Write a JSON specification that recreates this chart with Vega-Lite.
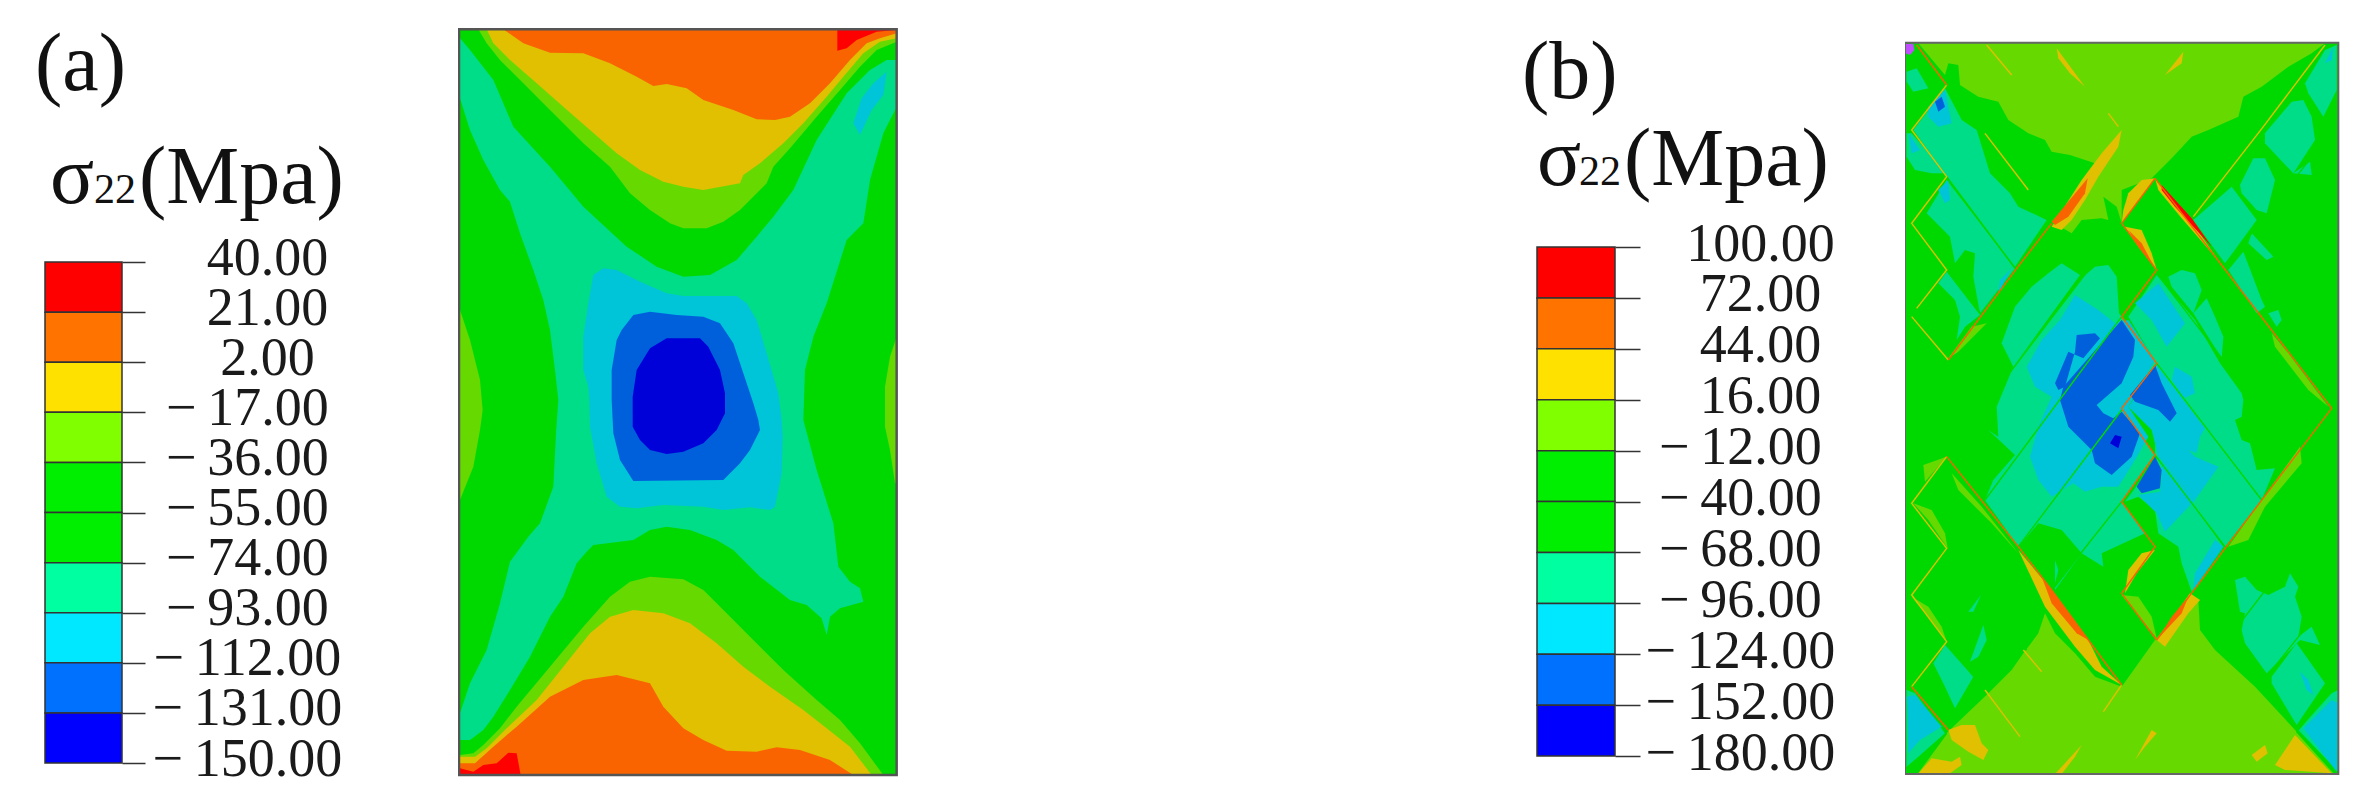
{"$schema":"https://vega.github.io/schema/vega-lite/v6.json","padding":0,"spacing":0,"background":"white","config":{"view":{"stroke":null},"font":"Liberation Serif"},"resolve":{"scale":{"color":"independent","stroke":"independent"}},"hconcat":[
{"width":458,"height":811,"layer":[
{"data":{"values":[{"hi":40,"lo":21,"band":1},{"hi":21,"lo":2,"band":2},{"hi":2,"lo":-17,"band":3},{"hi":-17,"lo":-36,"band":4},{"hi":-36,"lo":-55,"band":5},{"hi":-55,"lo":-74,"band":6},{"hi":-74,"lo":-93,"band":7},{"hi":-93,"lo":-112,"band":8},{"hi":-112,"lo":-131,"band":9},{"hi":-131,"lo":-150,"band":10}]},"mark":{"type":"rect","stroke":"#333","strokeWidth":1.5},"encoding":{"x":{"datum":45,"type":"quantitative","scale":{"domain":[0,458],"nice":false},"axis":null},"x2":{"datum":122},"y":{"field":"hi","type":"quantitative","scale":{"domain":[-168.2,139.4],"nice":false,"zero":false},"axis":{"orient":"right","offset":-336,"title":null,"grid":false,"domain":false,"values":[40,21,2,-17,-36,-55,-74,-93,-112,-131,-150],"labelExpr":"(datum.value<0?'−\u2009':'')+format(abs(datum.value),'.2f')+(datum.value<0?'\u00a0\u00a0\u00a0\u200b':'')","labelFont":"Liberation Serif","labelFontSize":54,"labelColor":"#1a1a1a","labelAlign":"center","labelBaseline":"middle","labelPadding":122,"labelLimit":500,"labelOffset":-4,"labelOverlap":false,"labelBound":false,"labelFlush":false,"tickSize":23,"tickColor":"#333","tickWidth":1.5}},"y2":{"field":"lo"},"color":{"field":"band","type":"ordinal","legend":null,"scale":{"domain":[1,2,3,4,5,6,7,8,9,10],"range":["#ff0000","#ff7300","#ffe100","#7fff00","#00ef00","#00ef00","#00ffa0","#00e8ff","#0070ff","#0000ff"]}}}},
{"data":{"values":[{"t":"(a)","px":35,"v":105.2},{"t":"σ","px":50,"v":62.4},{"t":"(Mpa)","px":139,"v":62.4}]},"mark":{"type":"text","align":"left","baseline":"alphabetic","font":"Liberation Serif","fontSize":82,"color":"#111"},"encoding":{"x":{"field":"px","type":"quantitative"},"y":{"field":"v","type":"quantitative"},"text":{"field":"t"}}},
{"data":{"values":[{"t":"22","px":94,"v":62.4}]},"mark":{"type":"text","align":"left","baseline":"alphabetic","font":"Liberation Serif","fontSize":42,"color":"#111"},"encoding":{"x":{"field":"px","type":"quantitative"},"y":{"field":"v","type":"quantitative"},"text":{"field":"t"}}}
]},
{"width":1042,"height":811,"projection":{"type":"identity","scale":0.33333,"translate":[-8,20]},"layer":[
{"data":{"values":[
{"type":"Feature","properties":{"band":"green"},"geometry":{"type":"Polygon","coordinates":[[[27,28],[1340,28],[1340,2265],[27,2265],[27,28]]]}},
{"type":"Feature","properties":{"band":"teal"},"geometry":{"type":"Polygon","coordinates":[[[30,55],[30,235],[60,330],[100,420],[150,510],[180,545],[210,640],[250,750],[280,840],[300,930],[315,1050],[325,1140],[318,1240],[310,1400],[270,1510],[235,1550],[180,1625],[150,1750],[110,1890],[60,1990],[30,2080],[30,2160],[60,2160],[100,2130],[130,2090],[180,2010],[240,1910],[300,1790],[340,1730],[380,1630],[410,1595],[430,1575],[550,1560],[600,1530],[650,1520],[720,1530],[800,1560],[850,1590],[930,1670],[1020,1740],[1070,1755],[1115,1795],[1130,1845],[1140,1790],[1170,1765],[1240,1745],[1230,1705],[1200,1685],[1165,1640],[1150,1510],[1100,1350],[1060,1200],[1065,1050],[1090,950],[1130,850],[1190,660],[1240,610],[1260,480],[1300,340],[1340,260],[1340,120],[1310,120],[1260,150],[1190,220],[1100,360],[1030,510],[970,590],[920,650],[860,720],[780,765],[700,770],[620,740],[530,680],[400,560],[300,440],[190,320],[130,180],[60,90],[30,55]]]}},
{"type":"Feature","properties":{"band":"yg"},"geometry":{"type":"Polygon","coordinates":[[[30,870],[60,960],[90,1080],[98,1170],[90,1230],[70,1340],[30,1440],[30,870]]]}},
{"type":"Feature","properties":{"band":"yg"},"geometry":{"type":"Polygon","coordinates":[[[1340,950],[1320,1010],[1305,1100],[1305,1220],[1320,1290],[1335,1390],[1340,1390],[1340,950]]]}},
{"type":"Feature","properties":{"band":"cyan"},"geometry":{"type":"Polygon","coordinates":[[[1310,155],[1300,225],[1265,270],[1230,345],[1210,310],[1235,235],[1270,190],[1310,155]]]}},
{"type":"Feature","properties":{"band":"cyan"},"geometry":{"type":"Polygon","coordinates":[[[430,765],[460,745],[500,750],[570,785],[650,820],[700,828],[860,828],[890,850],[920,900],[950,1000],[985,1120],[995,1200],[998,1250],[995,1360],[975,1460],[960,1470],[900,1462],[820,1470],[760,1460],[640,1455],[560,1465],[510,1460],[470,1430],[440,1330],[420,1220],[418,1140],[415,1100],[400,1050],[400,950],[415,850],[430,765]]]}},
{"type":"Feature","properties":{"band":"blue"},"geometry":{"type":"Polygon","coordinates":[[[515,930],[550,885],[600,875],[680,885],[760,890],[810,910],[850,970],[880,1060],[910,1150],[925,1200],[930,1230],[900,1290],[870,1330],[820,1380],[550,1383],[510,1320],[490,1240],[485,1140],[485,1050],[500,960],[515,930]]]}},
{"type":"Feature","properties":{"band":"navy"},"geometry":{"type":"Polygon","coordinates":[[[600,985],[650,955],[750,955],[775,980],[810,1050],[825,1120],[825,1180],[800,1230],[760,1270],[700,1295],[650,1302],[600,1290],[570,1260],[548,1220],[548,1130],[560,1050],[600,985]]]}},
{"type":"Feature","properties":{"band":"yg"},"geometry":{"type":"Polygon","coordinates":[[[85,28],[110,70],[150,120],[220,190],[300,270],[400,370],[480,440],[540,520],[600,570],[660,610],[700,625],[770,625],[820,605],[870,570],[950,490],[970,440],[1020,385],[1100,290],[1170,210],[1230,140],[1280,90],[1340,65],[1340,28],[85,28]]]}},
{"type":"Feature","properties":{"band":"yellow"},"geometry":{"type":"Polygon","coordinates":[[[110,28],[130,70],[180,120],[260,190],[340,260],[420,330],[500,400],[570,450],[640,485],[700,500],[760,510],[870,490],[880,465],[930,430],[1000,370],[1060,310],[1130,230],[1180,170],[1240,100],[1290,65],[1340,55],[1340,28],[110,28]]]}},
{"type":"Feature","properties":{"band":"orange"},"geometry":{"type":"Polygon","coordinates":[[[160,28],[220,70],[300,98],[400,100],[480,130],[560,170],[610,198],[650,192],[710,205],[760,240],[850,270],[920,298],[975,300],[1020,290],[1080,250],[1140,190],[1200,120],[1250,70],[1290,55],[1340,40],[1340,28],[160,28]]]}},
{"type":"Feature","properties":{"band":"red"},"geometry":{"type":"Polygon","coordinates":[[[1162,28],[1162,92],[1190,85],[1220,60],[1280,35],[1340,30],[1340,28],[1162,28]]]}},
{"type":"Feature","properties":{"band":"yg"},"geometry":{"type":"Polygon","coordinates":[[[30,2205],[70,2200],[100,2175],[150,2125],[200,2060],[300,1940],[400,1820],[480,1730],[540,1685],[600,1670],[700,1678],[760,1710],[830,1780],[900,1850],[1000,1950],[1100,2040],[1170,2100],[1230,2170],[1300,2265],[30,2265],[30,2205]]]}},
{"type":"Feature","properties":{"band":"yellow"},"geometry":{"type":"Polygon","coordinates":[[[30,2210],[75,2210],[110,2185],[170,2125],[260,2040],[340,1940],[420,1840],[480,1790],[550,1770],[640,1780],[720,1810],[800,1870],[880,1940],[960,2000],[1060,2070],[1130,2125],[1200,2180],[1265,2265],[30,2265],[30,2210]]]}},
{"type":"Feature","properties":{"band":"orange"},"geometry":{"type":"Polygon","coordinates":[[[30,2230],[75,2230],[130,2180],[200,2120],[300,2030],[400,1980],[500,1965],[600,1990],[640,2060],[700,2125],[760,2160],[830,2192],[920,2195],[980,2182],[1050,2190],[1140,2220],[1210,2265],[30,2265],[30,2230]]]}},
{"type":"Feature","properties":{"band":"red"},"geometry":{"type":"Polygon","coordinates":[[[30,2245],[70,2255],[100,2235],[140,2230],[175,2198],[200,2200],[212,2265],[30,2265],[30,2245]]]}}
]},"mark":{"type":"geoshape","strokeWidth":0},"encoding":{"color":{"field":"properties.band","type":"nominal","legend":null,"scale":{"domain":["red","orange","yellow","yg","green","teal","cyan","blue","navy","violet"],"range":["#ff0000","#f96400","#e0c000","#66d900","#00d900","#00dd88","#00c4d8","#0060dc","#0000d9","#c050ff"]}}}},
{"data":{"values":[{"type":"Feature","properties":{"band":"frame"},"geometry":{"type":"Polygon","coordinates":[[[27,28],[1340,28],[1340,2265],[27,2265],[27,28]]]}}]},"mark":{"type":"geoshape","filled":false,"stroke":"#555","strokeWidth":2.5},"encoding":{}}
]},
{"width":405,"height":811,"layer":[
{"data":{"values":[{"hi":100,"lo":72,"band":1},{"hi":72,"lo":44,"band":2},{"hi":44,"lo":16,"band":3},{"hi":16,"lo":-12,"band":4},{"hi":-12,"lo":-40,"band":5},{"hi":-40,"lo":-68,"band":6},{"hi":-68,"lo":-96,"band":7},{"hi":-96,"lo":-124,"band":8},{"hi":-124,"lo":-152,"band":9},{"hi":-152,"lo":-180,"band":10}]},"mark":{"type":"rect","stroke":"#333","strokeWidth":1.5},"encoding":{"x":{"datum":37,"type":"quantitative","scale":{"domain":[0,405],"nice":false},"axis":null},"x2":{"datum":115},"y":{"field":"hi","type":"quantitative","scale":{"domain":[-210.2,235.9],"nice":false,"zero":false},"axis":{"orient":"right","offset":-290,"title":null,"grid":false,"domain":false,"values":[100,72,44,16,-12,-40,-68,-96,-124,-152,-180],"labelExpr":"(datum.value<0?'−\u2009':'')+format(abs(datum.value),'.2f')+(datum.value<0?'\u00a0\u00a0\u00a0\u200b':'')","labelFont":"Liberation Serif","labelFontSize":54,"labelColor":"#1a1a1a","labelAlign":"center","labelBaseline":"middle","labelPadding":120,"labelLimit":500,"labelOffset":-3,"labelOverlap":false,"labelBound":false,"labelFlush":false,"tickSize":25,"tickColor":"#333","tickWidth":1.5}},"y2":{"field":"lo"},"color":{"field":"band","type":"ordinal","legend":null,"scale":{"domain":[1,2,3,4,5,6,7,8,9,10],"range":["#ff0000","#ff7300","#ffe100","#7fff00","#00ef00","#00ef00","#00ffa0","#00e8ff","#0070ff","#0000ff"]}}}},
{"data":{"values":[{"t":"(b)","px":22,"v":182},{"t":"σ","px":37,"v":134.1},{"t":"(Mpa)","px":124,"v":134.1}]},"mark":{"type":"text","align":"left","baseline":"alphabetic","font":"Liberation Serif","fontSize":82,"color":"#111"},"encoding":{"x":{"field":"px","type":"quantitative"},"y":{"field":"v","type":"quantitative"},"text":{"field":"t"}}},
{"data":{"values":[{"t":"22","px":79,"v":134.1}]},"mark":{"type":"text","align":"left","baseline":"alphabetic","font":"Liberation Serif","fontSize":42,"color":"#111"},"encoding":{"x":{"field":"px","type":"quantitative"},"y":{"field":"v","type":"quantitative"},"text":{"field":"t"}}}
]},
{"width":466,"height":811,"projection":{"type":"identity","scale":0.33334,"translate":[-10,30],"precision":0.6},"layer":[
{"data":{"values":[
{"type":"Feature","properties":{"band":"green"},"geometry":{"type":"Polygon","coordinates":[[[30,38],[1330,38],[1330,2232],[30,2232],[30,38]]]}},
{"type":"Feature","properties":{"band":"yg"},"geometry":{"type":"Polygon","coordinates":[[[70,40],[150,135],[160,100],[190,105],[195,165],[250,200],[310,215],[340,270],[400,310],[450,330],[470,365],[525,375],[600,400],[570,440],[520,520],[470,575],[530,610],[560,570],[620,565],[640,570],[625,500],[665,530],[680,580],[680,480],[770,445],[830,385],[890,320],[940,300],[1030,260],[1045,200],[1100,170],[1180,110],[1250,70],[1290,40],[70,40]]]}},
{"type":"Feature","properties":{"band":"yg"},"geometry":{"type":"Polygon","coordinates":[[[65,2232],[155,2110],[180,2085],[280,1990],[350,1920],[385,1870],[430,1810],[450,1750],[480,1810],[540,1870],[600,1940],[680,1970],[780,1830],[880,1710],[910,1710],[915,1800],[960,1860],[1080,1970],[1205,2105],[1320,2232],[65,2232]]]}},
{"type":"Feature","properties":{"band":"teal"},"geometry":{"type":"Polygon","coordinates":[[[55,300],[150,175],[200,270],[245,300],[285,430],[345,490],[370,530],[455,570],[360,710],[155,440],[55,300]]]}},
{"type":"Feature","properties":{"band":"teal"},"geometry":{"type":"Polygon","coordinates":[[[35,310],[50,310],[155,430],[110,430],[60,420],[35,380],[35,310]]]}},
{"type":"Feature","properties":{"band":"teal"},"geometry":{"type":"Polygon","coordinates":[[[155,450],[360,715],[255,850],[235,740],[240,670],[210,660],[180,700],[165,620],[95,550],[155,450]]]}},
{"type":"Feature","properties":{"band":"teal"},"geometry":{"type":"Polygon","coordinates":[[[35,125],[65,115],[100,175],[55,185],[35,155],[35,125]]]}},
{"type":"Feature","properties":{"band":"teal"},"geometry":{"type":"Polygon","coordinates":[[[130,760],[155,725],[255,855],[210,890],[185,930],[195,860],[180,810],[130,760]]]}},
{"type":"Feature","properties":{"band":"teal"},"geometry":{"type":"Polygon","coordinates":[[[555,735],[500,700],[460,730],[410,770],[360,830],[320,940],[355,1010],[555,735]]]}},
{"type":"Feature","properties":{"band":"teal"},"geometry":{"type":"Polygon","coordinates":[[[600,710],[640,705],[665,740],[672,850],[680,860],[785,1000],[680,1135],[780,1275],[680,1415],[750,1510],[620,1570],[625,1610],[560,1570],[480,1680],[480,1570],[430,1480],[370,1550],[270,1410],[295,1350],[360,1275],[280,1200],[310,1220],[305,1130],[355,1010],[560,745],[600,710]]]}},
{"type":"Feature","properties":{"band":"teal"},"geometry":{"type":"Polygon","coordinates":[[[820,740],[860,720],[900,730],[920,780],[895,850],[830,770],[820,740]]]}},
{"type":"Feature","properties":{"band":"teal"},"geometry":{"type":"Polygon","coordinates":[[[895,850],[935,805],[960,860],[985,920],[980,985],[895,850]]]}},
{"type":"Feature","properties":{"band":"teal"},"geometry":{"type":"Polygon","coordinates":[[[785,735],[900,870],[975,1000],[1040,1090],[1045,1110],[1040,1160],[1020,1170],[1040,1230],[1065,1240],[1085,1320],[1140,1315],[1100,1410],[990,1550],[780,1275],[785,1000],[700,860],[785,735]]]}},
{"type":"Feature","properties":{"band":"teal"},"geometry":{"type":"Polygon","coordinates":[[[790,1280],[985,1550],[890,1685],[860,1600],[850,1550],[820,1530],[790,1510],[780,1440],[730,1400],[690,1415],[790,1280]]]}},
{"type":"Feature","properties":{"band":"green"},"geometry":{"type":"Polygon","coordinates":[[[430,1480],[470,1560],[490,1620],[475,1680],[560,1570],[500,1500],[430,1480]]]}},
{"type":"Feature","properties":{"band":"teal"},"geometry":{"type":"Polygon","coordinates":[[[1230,160],[1290,60],[1325,45],[1325,180],[1285,260],[1240,190],[1230,160]]]}},
{"type":"Feature","properties":{"band":"teal"},"geometry":{"type":"Polygon","coordinates":[[[1110,310],[1190,215],[1225,210],[1250,260],[1260,330],[1195,430],[1110,340],[1110,310]]]}},
{"type":"Feature","properties":{"band":"teal"},"geometry":{"type":"Polygon","coordinates":[[[1035,465],[1075,385],[1110,385],[1140,450],[1115,550],[1085,540],[1040,490],[1035,465]]]}},
{"type":"Feature","properties":{"band":"teal"},"geometry":{"type":"Polygon","coordinates":[[[895,570],[1010,470],[1085,570],[990,700],[895,570]]]}},
{"type":"Feature","properties":{"band":"teal"},"geometry":{"type":"Polygon","coordinates":[[[1000,720],[1045,665],[1100,810],[1110,830],[1085,850],[1000,720]]]}},
{"type":"Feature","properties":{"band":"teal"},"geometry":{"type":"Polygon","coordinates":[[[1070,610],[1135,680],[1115,690],[1060,640],[1070,610]]]}},
{"type":"Feature","properties":{"band":"teal"},"geometry":{"type":"Polygon","coordinates":[[[1120,850],[1150,840],[1160,870],[1145,890],[1120,850]]]}},
{"type":"Feature","properties":{"band":"teal"},"geometry":{"type":"Polygon","coordinates":[[[1195,430],[1245,395],[1250,435],[1195,430]]]}},
{"type":"Feature","properties":{"band":"teal"},"geometry":{"type":"Polygon","coordinates":[[[115,1900],[150,1845],[235,1940],[180,2035],[150,1970],[115,1900]]]}},
{"type":"Feature","properties":{"band":"teal"},"geometry":{"type":"Polygon","coordinates":[[[220,1745],[258,1695],[235,1745],[220,1745]]]}},
{"type":"Feature","properties":{"band":"teal"},"geometry":{"type":"Polygon","coordinates":[[[225,1895],[265,1785],[275,1830],[250,1880],[225,1895]]]}},
{"type":"Feature","properties":{"band":"teal"},"geometry":{"type":"Polygon","coordinates":[[[1020,1650],[1050,1640],[1085,1680],[1120,1695],[1170,1670],[1185,1630],[1210,1670],[1200,1700],[1220,1760],[1210,1820],[1250,1790],[1275,1845],[1215,1830],[1115,1930],[1050,1840],[1040,1800],[1050,1750],[1035,1745],[1020,1650]]]}},
{"type":"Feature","properties":{"band":"teal"},"geometry":{"type":"Polygon","coordinates":[[[1130,1940],[1205,1840],[1290,1960],[1205,2085],[1130,1960],[1130,1940]]]}},
{"type":"Feature","properties":{"band":"teal"},"geometry":{"type":"Polygon","coordinates":[[[35,1980],[60,1990],[150,2110],[70,2180],[35,2210],[35,1980]]]}},
{"type":"Feature","properties":{"band":"teal"},"geometry":{"type":"Polygon","coordinates":[[[1330,1980],[1310,1990],[1210,2100],[1330,2225],[1330,1980]]]}},
{"type":"Feature","properties":{"band":"cyan"},"geometry":{"type":"Polygon","coordinates":[[[540,795],[610,840],[660,880],[700,870],[780,990],[700,1130],[760,1220],[720,1290],[670,1370],[620,1370],[570,1385],[535,1360],[470,1400],[430,1350],[405,1280],[430,1190],[470,1100],[420,1070],[395,1010],[440,930],[495,870],[540,795]]]}},
{"type":"Feature","properties":{"band":"cyan"},"geometry":{"type":"Polygon","coordinates":[[[790,760],[870,880],[815,950],[770,870],[720,820],[790,760]]]}},
{"type":"Feature","properties":{"band":"cyan"},"geometry":{"type":"Polygon","coordinates":[[[840,1010],[890,1040],[900,1090],[865,1105],[830,1050],[840,1010]]]}},
{"type":"Feature","properties":{"band":"cyan"},"geometry":{"type":"Polygon","coordinates":[[[785,1005],[930,1195],[915,1220],[905,1270],[880,1260],[900,1280],[970,1310],[900,1410],[790,1280],[770,1200],[700,1130],[785,1005]]]}},
{"type":"Feature","properties":{"band":"cyan"},"geometry":{"type":"Polygon","coordinates":[[[800,1295],[900,1410],[810,1505],[785,1450],[730,1395],[795,1385],[800,1340],[800,1295]]]}},
{"type":"Feature","properties":{"band":"cyan"},"geometry":{"type":"Polygon","coordinates":[[[960,1530],[985,1550],[895,1680],[900,1630],[960,1530]]]}},
{"type":"Feature","properties":{"band":"cyan"},"geometry":{"type":"Polygon","coordinates":[[[40,310],[75,360],[50,370],[40,310]]]}},
{"type":"Feature","properties":{"band":"cyan"},"geometry":{"type":"Polygon","coordinates":[[[130,480],[160,450],[165,510],[150,520],[130,480]]]}},
{"type":"Feature","properties":{"band":"cyan"},"geometry":{"type":"Polygon","coordinates":[[[100,230],[150,180],[170,280],[130,290],[100,260],[100,230]]]}},
{"type":"Feature","properties":{"band":"cyan"},"geometry":{"type":"Polygon","coordinates":[[[315,750],[350,715],[310,790],[315,750]]]}},
{"type":"Feature","properties":{"band":"cyan"},"geometry":{"type":"Polygon","coordinates":[[[1290,100],[1315,50],[1310,90],[1290,100]]]}},
{"type":"Feature","properties":{"band":"cyan"},"geometry":{"type":"Polygon","coordinates":[[[1215,1925],[1240,1950],[1255,1995],[1235,1980],[1215,1925]]]}},
{"type":"Feature","properties":{"band":"cyan"},"geometry":{"type":"Polygon","coordinates":[[[35,2000],[60,1995],[140,2090],[75,2130],[40,2170],[35,2000]]]}},
{"type":"Feature","properties":{"band":"cyan"},"geometry":{"type":"Polygon","coordinates":[[[1330,2020],[1310,2010],[1225,2095],[1325,2225],[1330,2020]]]}},
{"type":"Feature","properties":{"band":"blue"},"geometry":{"type":"Polygon","coordinates":[[[680,870],[720,930],[715,980],[680,1060],[605,1125],[625,1150],[655,1165],[680,1145],[735,1210],[710,1280],[650,1335],[600,1300],[590,1260],[520,1190],[495,1110],[505,1070],[680,870]]]}},
{"type":"Feature","properties":{"band":"blue"},"geometry":{"type":"Polygon","coordinates":[[[545,915],[600,910],[615,925],[565,985],[520,965],[480,1060],[490,1080],[510,1070],[540,965],[545,915]]]}},
{"type":"Feature","properties":{"band":"blue"},"geometry":{"type":"Polygon","coordinates":[[[780,1005],[800,1060],[845,1150],[825,1175],[790,1140],[720,1115],[705,1095],[780,1005]]]}},
{"type":"Feature","properties":{"band":"blue"},"geometry":{"type":"Polygon","coordinates":[[[780,1280],[800,1320],[795,1375],[740,1390],[725,1370],[780,1280]]]}},
{"type":"Feature","properties":{"band":"blue"},"geometry":{"type":"Polygon","coordinates":[[[120,215],[140,200],[150,230],[130,245],[120,215]]]}},
{"type":"Feature","properties":{"band":"navy"},"geometry":{"type":"Polygon","coordinates":[[[660,1215],[680,1220],[670,1255],[645,1240],[660,1215]]]}},
{"type":"Feature","properties":{"band":"yellow"},"geometry":{"type":"Polygon","coordinates":[[[680,300],[670,350],[610,440],[570,510],[530,570],[500,600],[470,590],[560,450],[620,370],[680,300]]]}},
{"type":"Feature","properties":{"band":"orange"},"geometry":{"type":"Polygon","coordinates":[[[578,445],[570,490],[520,560],[480,585],[470,575],[578,445]]]}},
{"type":"Feature","properties":{"band":"yellow"},"geometry":{"type":"Polygon","coordinates":[[[780,445],[740,450],[700,490],[685,540],[680,580],[780,445]]]}},
{"type":"Feature","properties":{"band":"yellow"},"geometry":{"type":"Polygon","coordinates":[[[780,445],[790,480],[860,565],[960,680],[990,720],[900,590],[780,445]]]}},
{"type":"Feature","properties":{"band":"red"},"geometry":{"type":"Polygon","coordinates":[[[800,465],[890,565],[950,650],[840,530],[800,480],[800,465]]]}},
{"type":"Feature","properties":{"band":"yellow"},"geometry":{"type":"Polygon","coordinates":[[[690,590],[740,600],[770,670],[785,720],[730,650],[690,590]]]}},
{"type":"Feature","properties":{"band":"orange"},"geometry":{"type":"Polygon","coordinates":[[[700,600],[740,640],[780,715],[730,650],[700,600]]]}},
{"type":"Feature","properties":{"band":"yellow"},"geometry":{"type":"Polygon","coordinates":[[[370,1560],[450,1730],[540,1850],[600,1920],[680,1965],[620,1910],[580,1830],[470,1680],[370,1560]]]}},
{"type":"Feature","properties":{"band":"orange"},"geometry":{"type":"Polygon","coordinates":[[[440,1640],[470,1680],[580,1830],[545,1810],[470,1720],[440,1640]]]}},
{"type":"Feature","properties":{"band":"yellow"},"geometry":{"type":"Polygon","coordinates":[[[885,1690],[915,1710],[880,1750],[810,1850],[785,1830],[885,1690]]]}},
{"type":"Feature","properties":{"band":"orange"},"geometry":{"type":"Polygon","coordinates":[[[880,1700],[860,1750],[790,1825],[830,1760],[880,1700]]]}},
{"type":"Feature","properties":{"band":"yg"},"geometry":{"type":"Polygon","coordinates":[[[1000,1550],[1060,1530],[1110,1430],[1220,1300],[1215,1250],[1100,1410],[1000,1550]]]}},
{"type":"Feature","properties":{"band":"yg"},"geometry":{"type":"Polygon","coordinates":[[[680,1695],[730,1700],[770,1760],[785,1825],[680,1695]]]}},
{"type":"Feature","properties":{"band":"yellow"},"geometry":{"type":"Polygon","coordinates":[[[780,1560],[740,1570],[700,1620],[690,1690],[725,1630],[780,1560]]]}},
{"type":"Feature","properties":{"band":"yg"},"geometry":{"type":"Polygon","coordinates":[[[85,1305],[155,1280],[90,1355],[85,1305]]]}},
{"type":"Feature","properties":{"band":"yg"},"geometry":{"type":"Polygon","coordinates":[[[55,1420],[110,1440],[150,1510],[158,1555],[100,1470],[55,1420]]]}},
{"type":"Feature","properties":{"band":"yg"},"geometry":{"type":"Polygon","coordinates":[[[50,1700],[100,1730],[140,1790],[155,1835],[90,1750],[50,1700]]]}},
{"type":"Feature","properties":{"band":"yg"},"geometry":{"type":"Polygon","coordinates":[[[1130,910],[1180,970],[1300,1130],[1240,1080],[1140,950],[1130,910]]]}},
{"type":"Feature","properties":{"band":"yg"},"geometry":{"type":"Polygon","coordinates":[[[170,1330],[260,1430],[370,1570],[290,1480],[190,1380],[170,1330]]]}},
{"type":"Feature","properties":{"band":"yg"},"geometry":{"type":"Polygon","coordinates":[[[160,985],[230,890],[275,880],[240,915],[190,965],[160,985]]]}},
{"type":"Feature","properties":{"band":"yellow"},"geometry":{"type":"Polygon","coordinates":[[[160,2100],[200,2085],[240,2085],[260,2140],[280,2160],[265,2190],[220,2165],[170,2130],[160,2100]]]}},
{"type":"Feature","properties":{"band":"yellow"},"geometry":{"type":"Polygon","coordinates":[[[70,2230],[110,2185],[170,2195],[195,2180],[200,2205],[165,2230],[70,2230]]]}},
{"type":"Feature","properties":{"band":"yellow"},"geometry":{"type":"Polygon","coordinates":[[[1140,2205],[1200,2115],[1310,2230],[1170,2220],[1140,2205]]]}},
{"type":"Feature","properties":{"band":"yellow"},"geometry":{"type":"Polygon","coordinates":[[[1070,2175],[1110,2145],[1118,2170],[1085,2195],[1070,2175]]]}},
{"type":"Feature","properties":{"band":"yellow"},"geometry":{"type":"Polygon","coordinates":[[[720,2190],[770,2100],[785,2110],[750,2150],[720,2190]]]}},
{"type":"Feature","properties":{"band":"yellow"},"geometry":{"type":"Polygon","coordinates":[[[480,2232],[560,2145],[540,2180],[500,2232],[480,2232]]]}},
{"type":"Feature","properties":{"band":"yellow"},"geometry":{"type":"Polygon","coordinates":[[[485,55],[570,170],[525,130],[490,85],[485,55]]]}},
{"type":"Feature","properties":{"band":"yellow"},"geometry":{"type":"Polygon","coordinates":[[[810,135],[865,65],[860,100],[810,135]]]}},
{"type":"Feature","properties":{"band":"violet"},"geometry":{"type":"Polygon","coordinates":[[[32,42],[55,42],[58,60],[45,75],[32,70],[32,42]]]}}
]},"mark":{"type":"geoshape","strokeWidth":0},"encoding":{"color":{"field":"properties.band","type":"nominal","legend":null,"scale":{"domain":["red","orange","yellow","yg","green","teal","cyan","blue","navy","violet"],"range":["#ff0000","#f96400","#e0c000","#66d900","#00d900","#00dd88","#00c4d8","#0060dc","#0000d9","#c050ff"]}}}},
{"data":{"values":[
{"type":"Feature","properties":{"band":"green"},"geometry":{"type":"LineString","coordinates":[[680,590],[155,1275]]}},
{"type":"Feature","properties":{"band":"green"},"geometry":{"type":"LineString","coordinates":[[680,860],[270,1410]]}},
{"type":"Feature","properties":{"band":"green"},"geometry":{"type":"LineString","coordinates":[[680,1140],[370,1550]]}},
{"type":"Feature","properties":{"band":"green"},"geometry":{"type":"LineString","coordinates":[[680,1415],[470,1680]]}},
{"type":"Feature","properties":{"band":"green"},"geometry":{"type":"LineString","coordinates":[[680,1690],[580,1830]]}},
{"type":"Feature","properties":{"band":"green"},"geometry":{"type":"LineString","coordinates":[[155,165],[455,565]]}},
{"type":"Feature","properties":{"band":"green"},"geometry":{"type":"LineString","coordinates":[[155,440],[360,715]]}},
{"type":"Feature","properties":{"band":"green"},"geometry":{"type":"LineString","coordinates":[[155,720],[260,855]]}},
{"type":"Feature","properties":{"band":"green"},"geometry":{"type":"LineString","coordinates":[[785,1000],[1100,1410]]}},
{"type":"Feature","properties":{"band":"green"},"geometry":{"type":"LineString","coordinates":[[785,730],[1200,1270]]}},
{"type":"Feature","properties":{"band":"green"},"geometry":{"type":"LineString","coordinates":[[780,1275],[990,1550]]}},
{"type":"Feature","properties":{"band":"green"},"geometry":{"type":"LineString","coordinates":[[780,1550],[885,1685]]}},
{"type":"Feature","properties":{"band":"green"},"geometry":{"type":"LineString","coordinates":[[995,705],[1310,305]]}},
{"type":"Feature","properties":{"band":"green"},"geometry":{"type":"LineString","coordinates":[[1105,860],[1310,585]]}},
{"type":"Feature","properties":{"band":"green"},"geometry":{"type":"LineString","coordinates":[[1205,2105],[1310,1980]]}},
{"type":"Feature","properties":{"band":"green"},"geometry":{"type":"LineString","coordinates":[[1115,1940],[1310,1695]]}},
{"type":"Feature","properties":{"band":"green"},"geometry":{"type":"LineString","coordinates":[[970,1865],[1310,1420]]}},
{"type":"Feature","properties":{"band":"green"},"geometry":{"type":"LineString","coordinates":[[1205,2105],[1320,2232]]}},
{"type":"Feature","properties":{"band":"green"},"geometry":{"type":"LineString","coordinates":[[155,2110],[65,2232]]}},
{"type":"Feature","properties":{"band":"green"},"geometry":{"type":"LineString","coordinates":[[155,1840],[270,1980]]}},
{"type":"Feature","properties":{"band":"green"},"geometry":{"type":"LineString","coordinates":[[155,1560],[395,1860]]}},
{"type":"Feature","properties":{"band":"yellow"},"geometry":{"type":"LineString","coordinates":[[270,1980],[375,2120]]}},
{"type":"Feature","properties":{"band":"yellow"},"geometry":{"type":"LineString","coordinates":[[385,1860],[440,1925]]}},
{"type":"Feature","properties":{"band":"yellow"},"geometry":{"type":"LineString","coordinates":[[680,1965],[625,2045]]}},
{"type":"Feature","properties":{"band":"yellow"},"geometry":{"type":"LineString","coordinates":[[275,45],[350,135]]}},
{"type":"Feature","properties":{"band":"yellow"},"geometry":{"type":"LineString","coordinates":[[640,250],[670,290]]}},
{"type":"Feature","properties":{"band":"yellow"},"geometry":{"type":"LineString","coordinates":[[895,560],[1105,290],[1290,45]]}},
{"type":"Feature","properties":{"band":"yellow"},"geometry":{"type":"LineString","coordinates":[[270,310],[400,480]]}},
{"type":"Feature","properties":{"band":"yellow"},"geometry":{"type":"LineString","coordinates":[[155,165],[50,300],[155,440],[50,580],[155,720],[65,835]]}},
{"type":"Feature","properties":{"band":"yellow"},"geometry":{"type":"LineString","coordinates":[[50,860],[160,990]]}},
{"type":"Feature","properties":{"band":"yellow"},"geometry":{"type":"LineString","coordinates":[[155,1280],[50,1420],[155,1555],[50,1695],[155,1835],[50,1970]]}},
{"type":"Feature","properties":{"band":"orange"},"geometry":{"type":"LineString","coordinates":[[65,45],[155,165]]}},
{"type":"Feature","properties":{"band":"orange"},"geometry":{"type":"LineString","coordinates":[[160,990],[365,715],[470,580]]}},
{"type":"Feature","properties":{"band":"orange"},"geometry":{"type":"LineString","coordinates":[[780,445],[1310,1135],[990,1555],[785,1830]]}},
{"type":"Feature","properties":{"band":"orange"},"geometry":{"type":"LineString","coordinates":[[155,1280],[370,1550],[470,1680],[580,1830],[680,1965]]}},
{"type":"Feature","properties":{"band":"orange"},"geometry":{"type":"LineString","coordinates":[[780,445],[680,580],[785,720],[680,860],[785,1000],[680,1135],[780,1275],[680,1415],[780,1550],[680,1690],[785,1830]]}},
{"type":"Feature","properties":{"band":"orange"},"geometry":{"type":"LineString","coordinates":[[50,1970],[160,2100]]}}
]},"mark":{"type":"geoshape","filled":false,"strokeWidth":1.4},"encoding":{"stroke":{"field":"properties.band","type":"nominal","legend":null,"scale":{"domain":["orange","yellow","green"],"range":["#f96400","#e0c000","#00d900"]}}}},
{"data":{"values":[{"type":"Feature","properties":{"band":"frame"},"geometry":{"type":"Polygon","coordinates":[[[30,38],[1330,38],[1330,2232],[30,2232],[30,38]]]}}]},"mark":{"type":"geoshape","filled":false,"stroke":"#666","strokeWidth":2},"encoding":{}}
]}
]}
